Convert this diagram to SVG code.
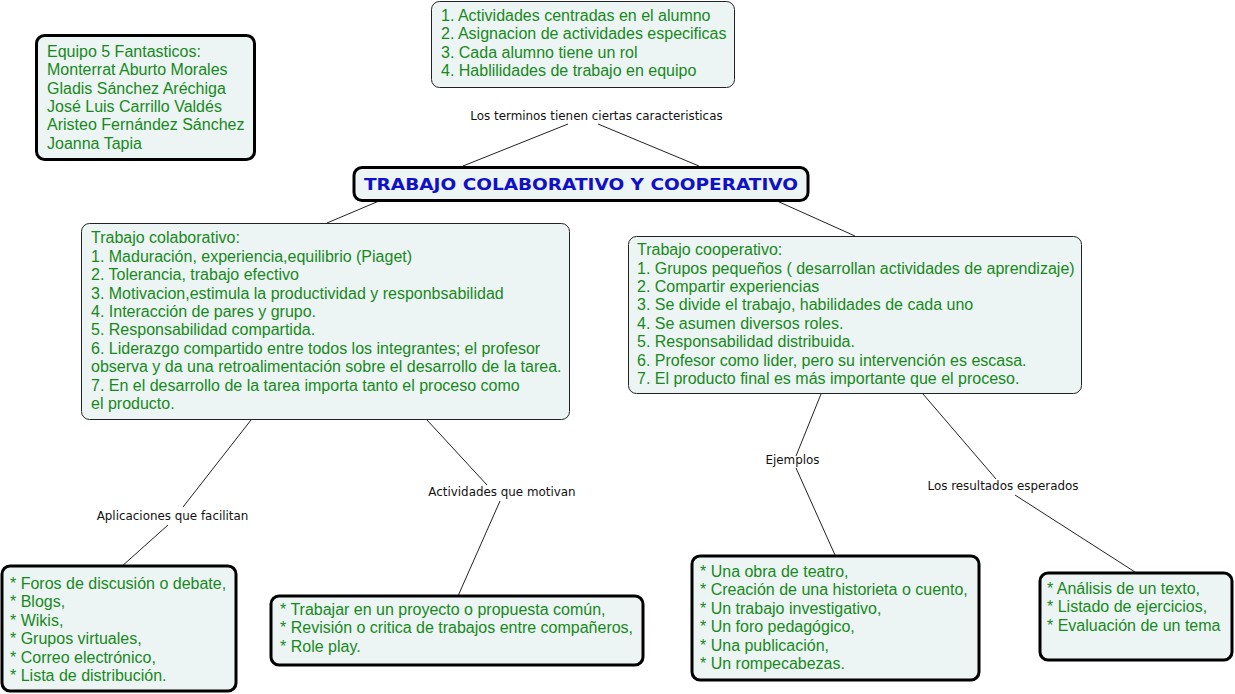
<svg xmlns="http://www.w3.org/2000/svg" width="1235" height="694" viewBox="0 0 1235 694">
<style>
.box{fill:#edf4f4;stroke:#000;}
.thick{stroke-width:3;}
.thin{stroke-width:1;stroke:#222;}
.t{font-family:"Liberation Sans",Arial,sans-serif;font-size:16px;fill:#17891c;}
.lbl{font-family:"DejaVu Sans",Verdana,sans-serif;font-size:11.9px;fill:#111;}
.main{font-family:"DejaVu Sans",Verdana,sans-serif;font-weight:bold;font-size:16px;fill:#1010c8;}
.conn line{stroke:#222;stroke-width:1;}
</style>
<rect width="1235" height="694" fill="#fff"/>
<g id="connectors" class="conn">
<line x1="463" y1="166" x2="568" y2="124"/>
<line x1="598" y1="124" x2="699" y2="166"/>
<line x1="379" y1="201" x2="327" y2="223"/>
<line x1="777" y1="201" x2="855" y2="236"/>
<line x1="251" y1="420" x2="183" y2="507"/>
<line x1="168" y1="525" x2="121" y2="567"/>
<line x1="427" y1="420" x2="487" y2="485"/>
<line x1="500" y1="501" x2="458" y2="596"/>
<line x1="821" y1="394" x2="796" y2="456"/>
<line x1="796" y1="468" x2="835" y2="555"/>
<line x1="923" y1="394" x2="996" y2="479"/>
<line x1="1015" y1="495" x2="1135" y2="572"/>
</g>
<g id="label-terminos"><text class="lbl" x="596.5" y="120" text-anchor="middle">Los terminos tienen ciertas caracteristicas</text></g>
<g id="label-aplicaciones"><text class="lbl" x="172.5" y="520" text-anchor="middle">Aplicaciones que facilitan</text></g>
<g id="label-actividades"><text class="lbl" x="502" y="496" text-anchor="middle">Actividades que motivan</text></g>
<g id="label-ejemplos"><text class="lbl" x="792.5" y="464" text-anchor="middle">Ejemplos</text></g>
<g id="label-resultados"><text class="lbl" x="1003" y="490" text-anchor="middle">Los resultados esperados</text></g>

<g id="node-equipo">
<rect class="box thick" x="36.5" y="35.5" width="218" height="124" rx="8"/>
<text class="t" x="47" y="57">Equipo 5 Fantasticos:</text>
<text class="t" x="47" y="75.3">Monterrat Aburto Morales</text>
<text class="t" x="47" y="93.6">Gladis Sánchez Aréchiga</text>
<text class="t" x="47" y="111.9">José Luis Carrillo Valdés</text>
<text class="t" x="47" y="130.2">Aristeo Fernández Sánchez</text>
<text class="t" x="47" y="148.5">Joanna Tapia</text>
</g>

<g id="node-caracteristicas">
<rect class="box thin" x="431.5" y="1.5" width="303" height="86" rx="8"/>
<text class="t" x="441" y="20.7">1. Actividades centradas en el alumno</text>
<text class="t" x="441" y="39.1">2. Asignacion de actividades especificas</text>
<text class="t" x="441" y="57.5">3. Cada alumno tiene un rol</text>
<text class="t" x="441" y="75.9">4. Hablilidades de trabajo en equipo</text>
</g>

<g id="node-central">
<rect class="box thick" x="354" y="167.5" width="454" height="33" rx="8"/>
<text class="main" x="581" y="190" text-anchor="middle" textLength="434" lengthAdjust="spacingAndGlyphs">TRABAJO COLABORATIVO Y COOPERATIVO</text>
</g>

<g id="node-colaborativo">
<rect class="box thin" x="81.5" y="223.5" width="488" height="196" rx="8"/>
<text class="t" x="91" y="243.4">Trabajo colaborativo:</text>
<text class="t" x="91" y="261.8">1. Maduración, experiencia,equilibrio (Piaget)</text>
<text class="t" x="91" y="280.2">2. Tolerancia, trabajo efectivo</text>
<text class="t" x="91" y="298.6">3. Motivacion,estimula la productividad y responbsabilidad</text>
<text class="t" x="91" y="317">4. Interacción de pares y grupo.</text>
<text class="t" x="91" y="335.4">5. Responsabilidad compartida.</text>
<text class="t" x="91" y="353.8">6. Liderazgo compartido entre todos los integrantes; el profesor</text>
<text class="t" x="91" y="372.2">observa y da una retroalimentación sobre el desarrollo de la tarea.</text>
<text class="t" x="91" y="390.6">7. En el desarrollo de la tarea importa tanto el proceso como</text>
<text class="t" x="91" y="409">el producto.</text>
</g>

<g id="node-cooperativo">
<rect class="box thin" x="628.5" y="236.5" width="453" height="157" rx="8"/>
<text class="t" x="637" y="255.2">Trabajo cooperativo:</text>
<text class="t" x="637" y="273.6">1. Grupos pequeños ( desarrollan actividades de aprendizaje)</text>
<text class="t" x="637" y="292">2. Compartir experiencias</text>
<text class="t" x="637" y="310.4">3. Se divide el trabajo, habilidades de cada uno</text>
<text class="t" x="637" y="328.8">4. Se asumen diversos roles.</text>
<text class="t" x="637" y="347.2">5. Responsabilidad distribuida.</text>
<text class="t" x="637" y="365.6">6. Profesor como lider, pero su intervención es escasa.</text>
<text class="t" x="637" y="384">7. El producto final es más importante que el proceso.</text>
</g>

<g id="node-aplicaciones">
<rect class="box thick" x="2" y="566" width="234" height="125" rx="8"/>
<text class="t" x="10" y="588.5">* Foros de discusión o debate,</text>
<text class="t" x="10" y="607">* Blogs,</text>
<text class="t" x="10" y="625.5">* Wikis,</text>
<text class="t" x="10" y="644">* Grupos virtuales,</text>
<text class="t" x="10" y="662.5">* Correo electrónico,</text>
<text class="t" x="10" y="681">* Lista de distribución.</text>
</g>

<g id="node-actividades">
<rect class="box thick" x="271" y="596" width="372" height="69" rx="8"/>
<text class="t" x="280" y="614.5">* Trabajar en un proyecto o propuesta común,</text>
<text class="t" x="280" y="633">* Revisión o critica de trabajos entre compañeros,</text>
<text class="t" x="280" y="651.5">* Role play.</text>
</g>

<g id="node-ejemplos">
<rect class="box thick" x="692" y="556" width="287" height="124" rx="8"/>
<text class="t" x="700" y="576.5">* Una obra de teatro,</text>
<text class="t" x="700" y="595">* Creación de una historieta o cuento,</text>
<text class="t" x="700" y="613.5">* Un trabajo investigativo,</text>
<text class="t" x="700" y="632">* Un foro pedagógico,</text>
<text class="t" x="700" y="650.5">* Una publicación,</text>
<text class="t" x="700" y="669">* Un rompecabezas.</text>
</g>

<g id="node-resultados">
<rect class="box thick" x="1040" y="573" width="192" height="87" rx="8"/>
<text class="t" x="1047" y="593.5">* Análisis de un texto,</text>
<text class="t" x="1047" y="612">* Listado de ejercicios,</text>
<text class="t" x="1047" y="630.5">* Evaluación de un tema</text>
</g>
</svg>
